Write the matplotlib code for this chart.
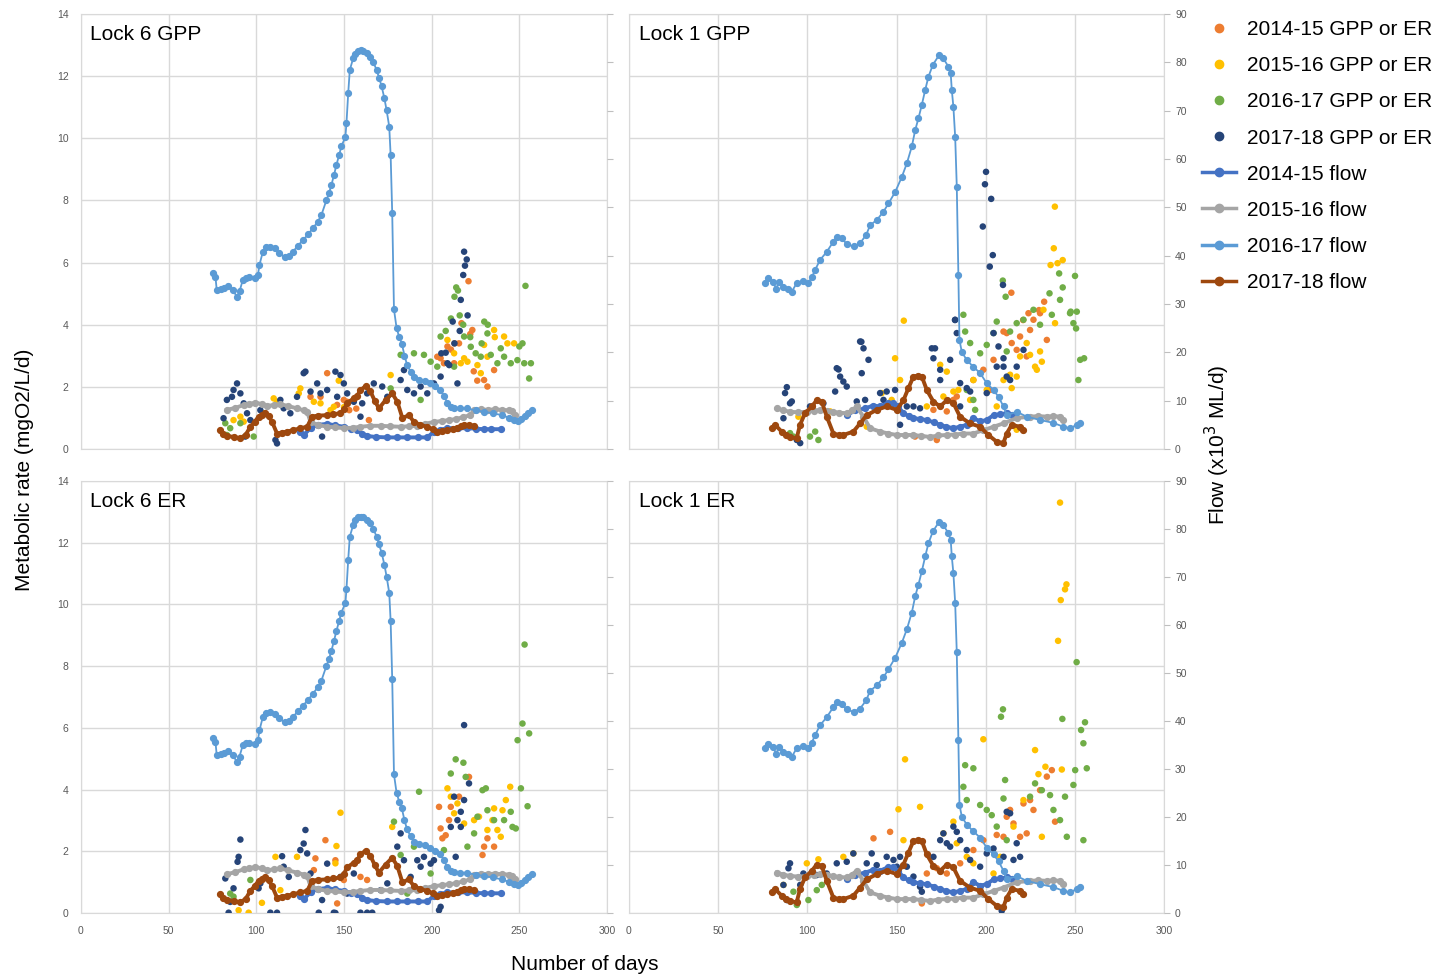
import matplotlib
matplotlib.use('Agg')
import matplotlib.pyplot as plt
from matplotlib.lines import Line2D

plt.rcParams['font.family'] = ['Liberation Sans', 'DejaVu Sans']

# ---------------- flow data (x10^3 ML/d), Lock 6 ----------------
l6_flow_1617_day = [75.5, 76.7, 77.4, 79.9, 81.5, 83.7, 86.6, 88.9, 90.4, 92.3, 94, 96.1, 99, 100.9,
                    101.8, 103.7, 105.7, 108, 110.4, 113, 116.1, 118.5, 120.9, 123.5, 126.6, 129.5,
                    132.3, 135, 137.1, 140, 141.5, 142.8, 144.3, 145.7, 147.2, 148.5, 150.8, 151.4,
                    152.4, 153.3, 155.2, 156.5, 158.1, 159.5, 161, 163, 164.8, 166.8, 168.6, 170,
                    171.5, 173, 174.3, 175.8, 176.6, 177.5, 178.5, 180, 181.5, 183, 184.5, 186, 188,
                    190, 193, 196, 199, 202, 205, 207, 209, 211, 213, 216, 220, 225, 230, 235, 240,
                    244, 247, 249, 251, 253, 255, 257.5]
l6_flow_1617_val = [36.4, 35.6, 32.9, 33.2, 33.3, 33.7, 32.9, 31.5, 32.6, 35.0, 35.4, 35.5, 35.3, 36.0,
                    38.1, 40.8, 41.7, 41.8, 41.5, 40.6, 39.7, 40.0, 40.8, 42.0, 43.2, 44.4,
                    45.7, 47.0, 48.4, 51.5, 53.0, 54.6, 56.7, 58.8, 60.8, 62.6, 64.6, 67.4,
                    73.6, 78.4, 80.8, 81.8, 82.4, 82.5, 82.4, 81.9, 81.2, 80.0, 78.4, 76.8,
                    75.0, 72.6, 70.1, 66.7, 60.8, 48.8, 28.9, 25.0, 23.2, 21.8, 19.3, 17.4, 16.0,
                    14.8, 14.3, 14.1, 13.6, 13.0, 12.2, 11.0, 9.5, 8.7, 8.5, 8.4, 8.4, 8.0, 7.7, 7.4, 7.0,
                    6.5, 6.0, 5.8, 6.2, 6.8, 7.4, 8.1]
l6_flow_1516_day = [83.2, 88, 92.7, 96, 99.4, 103, 106, 110, 113.7, 118, 123.3, 127, 129, 130.9, 135,
                    140.4, 145, 149.9, 155, 159.4, 165, 170.9, 176, 182.3, 187, 191.8, 196, 201.3,
                    206, 210, 214, 218, 222, 224, 228, 232, 236, 240, 244, 246, 247.5]
l6_flow_1516_val = [8.1, 8.5, 9.1, 9.3, 9.6, 9.3, 8.9, 9.1, 9.3, 8.9, 8.4, 8.0, 7.7, 5.6, 5.0,
                    4.6, 4.5, 4.3, 4.4, 4.6, 4.8, 4.8, 4.7, 4.6, 4.7, 4.8, 5.2, 5.6,
                    5.8, 6.0, 6.2, 6.6, 7.0, 8.0, 8.2, 8.1, 8.2, 8.1, 8.0, 7.8, 7.0]
l6_flow_1718_day = [79.4, 81, 83.2, 87, 90.9, 94, 96.6, 99, 101.3, 103, 105.1, 107, 109, 111.8, 114.5,
                    117.5, 121, 125.1, 129, 131.8, 135, 140.4, 144, 148, 150, 151.8, 155.6, 157.5,
                    159.4, 162.3, 165.1, 167.5, 169.9, 173.7, 177.5, 180.4, 183.3, 187, 189.9, 193.5,
                    197.5, 200.5, 203.3, 206, 209, 212, 214.7, 216.5, 218.5, 221.5, 224.2]
l6_flow_1718_val = [3.9, 3.1, 2.7, 2.5, 2.2, 3.0, 4.6, 5.6, 6.7, 7.1, 7.4, 6.8, 5.6, 3.2, 3.4,
                    3.6, 3.9, 4.3, 4.6, 6.7, 6.9, 7.0, 7.2, 7.4, 8.2, 9.5, 10.5, 11.0,
                    12.2, 13.0, 11.9, 10.0, 8.4, 10.1, 11.5, 9.8, 6.4, 7.0, 5.6, 5.0,
                    4.6, 4.1, 3.6, 3.7, 3.9, 4.1, 4.3, 4.7, 5.0, 4.9, 4.8]
l6_flow_1415_day = [125, 127, 130.9, 135, 140.4, 145, 149.9, 154, 157.5, 160.5, 163.2, 168, 174.7, 180,
                    186.1, 192, 197.5, 201.3, 205, 209, 215, 220.4, 225, 229.9, 234, 239.4]
l6_flow_1415_val = [3.5, 2.9, 4.3, 5.0, 5.2, 4.9, 4.6, 4.2, 3.9, 3.2, 2.7, 2.5, 2.4, 2.4,
                    2.4, 2.4, 2.4, 3.6, 4.0, 4.3, 4.3, 4.3, 4.2, 4.1, 4.1, 4.1]

# ---------------- flow data (x10^3 ML/d), Lock 1 ----------------
l1_flow_1617_day = [76.3, 78.1, 80.9, 82.4, 84.3, 86.5, 89.3, 91.2, 94, 97.8, 100.6, 102.5, 104.3, 107.1,
                    110.9, 114.6, 116.5, 119.3, 122.1, 125.9, 129.6, 133, 135.2, 139, 142.7, 145.5,
                    149.3, 153, 155.8, 158.6, 160.5, 162.3, 164.2, 166.1, 167.9, 170.4, 173.9, 176.3,
                    179.1, 180.4, 181, 181.9, 182.9, 183.8, 184.7, 185.3, 186.6, 189.4, 193.1, 196.9,
                    200.6, 204.4, 207.2, 210, 211.8, 217.4, 223, 230.5, 238, 243.6, 247.3, 251.1, 252.9]
l1_flow_1617_val = [34.3, 35.3, 34.6, 33.2, 34.6, 33.6, 33.2, 32.5, 34.3, 34.8, 34.4, 35.5, 37.0, 39.1,
                    40.8, 42.9, 43.9, 43.6, 42.4, 41.9, 42.6, 44.3, 46.3, 47.4, 49.1, 50.8,
                    53.2, 56.3, 59.1, 62.6, 66.0, 68.4, 71.2, 74.3, 77.0, 79.5, 81.5, 80.8,
                    79.1, 77.7, 74.3, 70.8, 64.6, 54.3, 36.0, 22.6, 20.1, 18.4, 17.0, 15.7,
                    13.6, 12.2, 10.8, 8.8, 7.0, 7.7, 6.7, 6.0, 5.4, 4.6, 4.3, 5.0, 5.4]
l1_flow_1516_day = [82.8, 86.5, 90.3, 95, 99.7, 103.5, 107.1, 111, 114.6, 118, 122.1, 125, 127.7, 131.4,
                    135.2, 140.8, 145.5, 150.2, 155, 159.5, 164, 168.8, 173.5, 178.2, 183, 187.5,
                    193.1, 198.7, 204.4, 210, 217.4, 224.9, 229.5, 234.3, 238, 241.7, 243.6]
l1_flow_1516_val = [8.4, 8.0, 7.7, 7.6, 7.7, 7.9, 8.1, 7.9, 7.7, 7.5, 7.4, 8.0, 8.8, 6.7,
                    4.3, 3.6, 3.2, 2.9, 2.9, 2.9, 2.7, 2.5, 2.8, 2.9, 3.0, 3.2,
                    3.2, 3.9, 4.6, 5.3, 6.4, 6.7, 6.8, 6.7, 6.8, 6.7, 6.0]
l1_flow_1718_day = [80, 81.9, 85.6, 88, 90.3, 94, 95.9, 98.7, 102.5, 105.3, 108.1, 110.9, 114.6, 117.5,
                    120.2, 125.8, 129.6, 133.3, 138.9, 144.5, 150.2, 153.9, 156.7, 159.5, 162, 164.2,
                    167, 170.7, 174.5, 178.2, 181.9, 185.6, 191.2, 196.9, 201.5, 206.2, 209.9, 211.8,
                    214.6, 219.3, 221.1]
l1_flow_1718_val = [4.3, 5.0, 3.6, 3.0, 2.5, 2.2, 5.0, 7.4, 8.8, 10.1, 9.8, 6.7, 3.2, 2.9,
                    2.9, 3.6, 5.3, 7.0, 8.1, 8.8, 8.1, 10.1, 12.6, 15.0, 15.2, 15.0,
                    12.2, 9.8, 8.8, 10.1, 9.5, 6.7, 5.3, 4.6, 2.9, 1.5, 1.2, 3.2,
                    5.0, 4.6, 3.9]
l1_flow_1415_day = [122, 127, 132.4, 137, 140.8, 145, 148.2, 151, 153.8, 157, 159.5, 163, 167, 171,
                    174.4, 178, 181.9, 185.5, 189.4, 193.1, 196.9, 200.5, 204.4, 208, 211.8, 215]
l1_flow_1415_val = [7.0, 8.0, 8.4, 9.0, 8.8, 9.5, 9.5, 8.8, 7.4, 6.8, 6.4, 6.2, 6.0, 5.5,
                    5.0, 4.6, 4.3, 4.6, 5.0, 6.4, 5.7, 6.0, 7.0, 7.2, 7.4, 7.0]

# ---------------- metabolic rates (mgO2/L/d) ----------------
# Lock 6 GPP
l6g_1415_day = [130.9, 136.6, 140.4, 146.1, 149.9, 151.8, 153, 157, 164.2, 203.2, 205.1, 207, 209, 211,
                212.8, 213, 215.6, 217, 221, 222, 223.2, 224, 226, 229.9, 231.8, 235.6]
l6g_1415_val = [1.68, 1.68, 2.44, 1.42, 1.58, 1.52, 1.25, 1.3, 0.93, 2.97, 2.92, 2.76, 3.3, 3.2,
                2.76, 3.4, 3.4, 4.05, 5.4, 3.7, 3.83, 2.5, 2.2, 2.22, 2.01, 2.54]
l6g_1516_day = [87, 90.9, 92.8, 104.2, 109.9, 111.8, 124.2, 125.1, 132.8, 136.6, 142.3, 144.2, 147, 150,
                176.6, 209, 212.8, 216.6, 218.5, 220.4, 226.1, 228, 229.9, 231.8, 235.6, 236, 241.3,
                243.2, 247]
l6g_1516_val = [0.93, 1.04, 0.88, 1.15, 1.63, 1.52, 1.79, 1.95, 1.52, 1.47, 1.25, 1.36, 2.2, 1.35,
                2.38, 3.51, 3.08, 2.76, 2.92, 2.81, 2.7, 2.44, 3.35, 2.97, 3.83, 3.6, 3.62,
                3.4, 3.4]
l6g_1617_day = [82.3, 83.2, 85.1, 90.9, 98.5, 176.6, 182.3, 189.9, 193.7, 195.6, 199.4, 203.2, 205.1,
                208, 211, 212.8, 213, 214, 215, 216, 218, 218.5, 222, 222.3, 225.1, 228, 228.5, 230,
                231.8, 232, 233.7, 237.5, 239.4, 241.3, 245.1, 248.9, 250, 251.8, 252.8, 253.5,
                255.6, 256.6]
l6g_1617_val = [0.83, 0.45, 0.67, 0.83, 0.4, 1.95, 3.03, 3.08, 1.58, 3.03, 2.81, 2.65, 3.62,
                3.8, 4.2, 2.65, 4.9, 5.2, 5.1, 4.3, 4.0, 3.62, 3.6, 3.29, 3.08, 2.97, 3.4, 4.1,
                3.72, 4.0, 3.03, 2.76, 3.24, 2.97, 2.76, 2.86, 3.3, 3.4, 2.76, 5.25,
                2.27, 2.76]
l6g_1718_day = [81.3, 83.2, 86.1, 87, 89, 90.9, 92.8, 93.7, 94.7, 96.6, 102.3, 110.9, 111.8, 113.7,
                115.6, 119.4, 123.2, 127, 128, 130.9, 134.7, 136.6, 137.5, 140.4, 145.1, 146.1,
                148, 149.9, 151.8, 155.6, 159.4, 160.4, 163.2, 167, 171.8, 174.7, 182.3, 184.2,
                186.1, 189.9, 193.7, 197.5, 201.3, 205.1, 205.5, 208, 209, 210, 212, 213, 214.7,
                216, 216.6, 218, 218.5, 219, 220, 220.5]
l6g_1718_val = [0.99, 1.58, 1.68, 1.9, 2.11, 1.79, 1.47, 0.4, 1.15, 0.93, 1.25, 0.29, 0.18, 1.58,
                1.31, 1.15, 1.68, 2.44, 2.49, 1.85, 2.11, 1.79, 0.4, 1.9, 2.49, 1.68,
                2.38, 2.11, 1.79, 1.52, 1.04, 1.47, 1.79, 2.11, 2.01, 1.68, 2.22, 2.54,
                1.9, 1.79, 2.01, 1.79, 2.11, 2.33, 3.08, 3.1, 2.76, 2.7, 4.1, 3.4, 2.11,
                3.8, 4.8, 5.6, 6.35, 5.9, 6.1, 4.3]

# Lock 6 ER
l6e_1415_day = [132.8, 133.7, 139.4, 145.1, 146.1, 149.9, 159.4, 163.2, 204.2, 205.1, 206.1, 208,
                209.9, 210.9, 215.6, 221.3, 229, 229.9, 231.8, 235.6]
l6e_1415_val = [1.39, 1.77, 2.36, 1.71, 0.31, 1.07, 1.17, 1.07, 3.44, 2.74, 2.42, 2.52,
                3.01, 3.44, 3.77, 4.41, 1.88, 2.15, 2.42, 2.15]
l6e_1516_day = [89.9, 95.6, 103.2, 110.9, 113.7, 123.2, 145.1, 145.7, 148, 177.5, 209, 210.9, 212.8,
                214.7, 218.5, 224.2, 227, 231.8, 234.7, 235.6, 237.5, 239.4, 240.4, 242.3, 244.8]
l6e_1516_val = [0.09, 0.01, 0.33, 1.82, 0.74, 1.82, 1.61, 2.17, 3.25, 2.79, 4.04, 3.77, 3.23,
                3.55, 2.9, 3.01, 3.12, 2.69, 3.01, 3.39, 2.69, 2.47, 3.33, 3.66, 4.09]
l6e_1617_day = [85.1, 87, 96.6, 178.5, 182.3, 186.1, 189.9, 192.8, 199.4, 207, 210.9, 213.7, 218.1,
                219.4, 220.4, 224.2, 226.1, 229, 230.9, 231.8, 235.6, 241.3, 245.1, 246.1, 248,
                249, 250.9, 251.8, 253, 254.7, 255.6]
l6e_1617_val = [0.63, 0.53, 1.07, 2.96, 1.88, 0.63, 2.15, 3.93, 1.28, 2.04, 4.52, 4.98, 4.87,
                4.41, 2.15, 2.58, 3.12, 3.98, 4.04, 3.33, 3.01, 3.01, 3.28, 2.79, 2.74,
                5.6, 4.04, 6.14, 8.7, 3.46, 5.82]
l6e_1718_day = [82.3, 84.2, 85.1, 87, 89.3, 89.9, 90.9, 101.3, 102.3, 108, 111.8, 114.7, 115.6, 118.5,
                125.1, 127, 128, 129, 130.9, 135.6, 137.5, 140.4, 144.2, 145.1, 148, 151.8, 155.6,
                159.4, 163.2, 166.1, 170.9, 174.7, 180.4, 182.3, 184.2, 188, 191.8, 193.7, 195.6,
                199.4, 201.3, 204.2, 205.1, 210.9, 212.8, 213.7, 214.7, 216.6, 216.6, 218.5, 218.5,
                221.3]
l6e_1718_val = [1.12, 0.01, 0.36, 0.8, 1.66, 1.82, 2.38, 0.8, 0.96, 0.01, 0.01, 1.84, 1.5, 1.17,
                2.04, 2.25, 2.69, 1.93, 1.28, 0.01, 0.42, 1.6, 0.01, 0.0, 1.17, 0.63, 1.28,
                0.01, 0.01, 0.01, 0.74, 0.96, 2.15, 2.58, 1.71, 1.17, 1.71, 1.5, 1.82,
                1.6, 1.71, 0.09, 0.2, 2.79, 3.77, 1.82, 3.01, 3.28, 2.79, 3.66, 6.09,
                4.2]

# Lock 1 GPP
l1g_1415_day = [160.4, 170.7, 172.6, 178.2, 181.9, 183.8, 193.1, 196.9, 198.7, 202.5, 204.4, 210,
                211.8, 214.4, 214.6, 217.4, 219.3, 221, 223, 224, 224.9, 226.8, 229.9, 230.5, 232.8,
                234.3]
l1g_1415_val = [0.4, 1.26, 0.29, 1.21, 1.58, 1.69, 2.22, 2.44, 2.55, 1.9, 2.87, 3.78,
                3.73, 5.03, 3.41, 3.19, 3.62, 4.15, 2.98, 4.37, 3.83, 4.16, 4.47, 4.37, 4.74,
                3.51]
l1g_1516_day = [95, 112.8, 133.3, 141.7, 147.3, 149.2, 152, 154.1, 167, 174.5, 176.3, 178.2, 181.9,
                184.7, 191.3, 193.1, 200.6, 206.2, 210, 213.7, 214.6, 217.4, 217.4, 219.3, 223,
                224.9, 227.7, 228.7, 230.5, 231.5, 232.4, 236.4, 238.2, 238.8, 238.9, 240.3, 243.2]
l1g_1516_val = [1.04, 1.21, 0.72, 1.8, 1.58, 2.92, 2.22, 4.13, 1.37, 2.71, 1.69, 2.49, 1.85,
                1.9, 1.58, 2.22, 1.9, 1.37, 2.22, 2.39, 1.96, 2.33, 0.62, 2.98, 3.41,
                3.03, 2.65, 2.55, 3.14, 2.81, 4.48, 5.92, 6.46, 7.8, 4.05, 5.98, 6.08]
l1g_1617_day = [90.3, 92.2, 101.5, 104.4, 106.2, 187.5, 188.5, 189.4, 191.3, 193.1, 194.1, 196.9,
                200.6, 204.4, 206.2, 209.6, 211.2, 211.8, 213.7, 217.4, 221.2, 226.8, 230.5, 235.8,
                237.1, 241.2, 241.7, 243.2, 247.3, 247.7, 249.2, 250.1, 250.7, 251.1, 252, 253,
                255.2]
l1g_1617_val = [0.51, 0.4, 0.4, 0.56, 0.29, 4.32, 3.78, 1.9, 3.41, 1.58, 1.26, 3.08,
                3.35, 3.73, 4.1, 5.42, 4.9, 3.14, 3.78, 4.05, 4.16, 4.48, 4.0, 5.01,
                4.32, 5.65, 4.8, 5.2, 4.37, 4.42, 4.05, 5.57, 3.88, 4.42, 2.22, 2.87,
                2.92]
l1g_1718_day = [86.6, 87.5, 88.5, 90.3, 91.3, 94.1, 96, 101.5, 109, 115.6, 116.5, 117.5, 118.4, 120.2,
                122.1, 127.7, 129.6, 130.3, 130.5, 131.5, 132.4, 134.3, 140.8, 142.7, 144.5, 149.2,
                152, 155.8, 159.5, 163.2, 169.8, 170.7, 171.6, 174.5, 174.5, 180.1, 182.8, 182.9,
                183.8, 185.7, 185.7, 189.4, 191.3, 198.4, 199.6, 200.2, 200.6, 202.3, 203.1, 204,
                204.4, 206.2, 207.2, 209.7, 210, 210, 211.8, 213.7, 217.4, 221.2]
l1g_1718_val = [0.99, 1.8, 1.99, 1.47, 1.53, 0.29, 0.19, 1.37, 1.47, 1.85, 2.6, 2.56, 2.33, 2.17,
                2.01, 1.53, 3.46, 3.45, 2.44, 3.24, 1.58, 2.87, 1.8, 1.58, 1.85, 1.9,
                0.78, 1.37, 1.37, 1.31, 3.24, 2.92, 3.24, 2.55, 2.22, 2.87, 4.15, 4.16,
                3.73, 2.12, 1.37, 1.96, 1.85, 7.16, 8.52, 8.92, 1.8, 5.87, 8.05, 6.24,
                3.73, 2.65, 3.3, 5.28, 2.65, 2.92, 2.33, 2.22, 2.65, 3.19]

# Lock 1 ER
l1e_1415_day = [137.1, 146.4, 164.2, 167, 172.6, 178.2, 185.7, 193.1, 198.7, 206.2, 210, 211.8, 213.7,
                215.6, 219.3, 221.2, 223, 224.9, 226.8, 230.5, 234.3, 237.1, 238.9]
l1e_1415_val = [2.42, 2.63, 0.31, 1.28, 1.45, 1.28, 1.61, 2.04, 2.36, 2.53, 2.47, 3.12, 3.34,
                2.9, 2.47, 3.55, 2.58, 3.66, 3.34, 3.98, 4.42, 4.63, 2.96]
l1e_1516_day = [86.6, 99.7, 106.2, 120.2, 125.8, 151.1, 153.9, 154.8, 163.2, 176.3, 181.9, 183.8,
                189.4, 193.1, 198.7, 204.4, 208.1, 215.6, 221.2, 227.7, 229.6, 231.5, 233.5, 240.6,
                241.7, 242.1, 242.7, 244.5, 245.3]
l1e_1516_val = [0.91, 1.61, 1.74, 1.82, 1.93, 3.36, 2.36, 4.98, 3.44, 2.58, 2.96, 2.26,
                1.82, 1.61, 5.63, 1.28, 1.82, 2.8, 3.66, 5.28, 4.5, 2.47, 4.74, 8.82,
                13.3, 10.14, 4.65, 10.49, 10.65]
l1e_1617_day = [92.2, 94.1, 100.6, 105.3, 108.1, 187.5, 188.5, 189.4, 193.1, 196.9, 200.6, 203.4,
                206.2, 208.6, 209.7, 210, 210.9, 211.8, 224.9, 227.7, 231.5, 236.1, 238, 241.7,
                243, 244.5, 245.5, 249.2, 250.2, 251, 254.8, 254.8, 256.7, 255.7, 253.5]
l1e_1617_val = [0.69, 0.26, 0.42, 0.74, 0.91, 4.09, 4.79, 3.66, 4.69, 3.5, 3.34, 3.17,
                2.8, 6.36, 6.6, 3.71, 4.31, 2.36, 3.77, 4.2, 3.98, 3.82, 3.34, 3.01,
                6.29, 3.77, 2.47, 4.15, 4.63, 8.13, 2.36, 5.5, 4.69, 6.18, 5.93]
l1e_1718_day = [86.6, 88.5, 89.4, 90.3, 96, 97.8, 105.3, 110.9, 116.5, 122.1, 125.8, 133.3, 136.1,
                138.9, 144.5, 148.3, 150.2, 152, 155.8, 159.5, 163.2, 164.2, 170.7, 174.5, 176.3,
                178.2, 180.1, 181.9, 183.8, 185.7, 189.4, 191.3, 196.9, 200.6, 204.4, 209, 210,
                211.8, 213.7, 215.6, 217.4, 219.3]
l1e_1718_val = [0.91, 0.42, 1.45, 1.61, 0.91, 1.28, 1.23, 1.28, 1.61, 1.66, 1.93, 1.61, 1.93,
                1.55, 1.82, 1.72, 1.5, 1.82, 1.5, 1.18, 0.85, 0.69, 1.82, 2.36, 2.58,
                2.26, 2.15, 2.8, 2.63, 2.36, 2.04, 1.72, 1.5, 1.93, 2.09, 0.07, 1.82,
                3.28, 3.23, 1.72, 2.26, 1.82]

# ---------------- styling ----------------
years = ['2014-15', '2015-16', '2016-17', '2017-18']
dot_colors = ['#ED7D31', '#FFC000', '#70AD47', '#264478']
flow_colors = ['#4472C4', '#A5A5A5', '#5B9BD5', '#9E480E']
grid_c = '#D9D9D9'
tick_c = '#595959'

W, H = 1447, 977
fig = plt.figure(figsize=(W / 100, H / 100), dpi=100)


def fx(px):
    return px / W


def fy(py):
    return 1 - py / H


def draw_panel(rect, title, dots, flows, left_labels, right_labels, x_labels):
    ax = fig.add_axes(rect)
    ax.set_xlim(0, 300)
    ax.set_ylim(0, 14)
    ax.set_xticks(range(0, 301, 50))
    ax.set_yticks(range(0, 15, 2))
    ax.grid(True, color=grid_c, lw=1)
    ax.set_axisbelow(True)
    for s in ax.spines.values():
        s.set_color(grid_c)
    ax.tick_params(length=0, labelsize=7.5, colors=tick_c, pad=9)
    if not left_labels:
        ax.set_yticklabels([])
    if not x_labels:
        ax.set_xticklabels([])
    for (d, v), c in zip(dots, dot_colors):
        ax.scatter(d, v, s=22, color=c, edgecolors='none', zorder=3)
    ax.text(0.018, 0.952, title, transform=ax.transAxes, fontsize=15, va='center', ha='left')

    # flows on a secondary axis (0-90)
    ax2 = ax.twinx()
    ax2.set_ylim(0, 90)
    ax2.set_yticks(range(0, 91, 10))
    for s in ax2.spines.values():
        s.set_visible(False)
    ax2.tick_params(axis='y', direction='out', length=4, color='#BFBFBF', labelsize=7.5,
                    labelcolor=tick_c, pad=4)
    if not right_labels:
        ax2.set_yticklabels([])
    for (d, v), c in zip(flows, flow_colors):
        lw = 1.3 if c == '#5B9BD5' else 2.8
        ax2.plot(d, v, color=c, lw=lw, marker='o', ms=4.2, mec=c, mfc=c)
    return ax


lx0, lx1 = 81, 607
rx0, rx1 = 629, 1164
ty0, ty1 = 14, 449
by0, by1 = 481, 913

l6_flows = [(l6_flow_1415_day, l6_flow_1415_val), (l6_flow_1516_day, l6_flow_1516_val),
            (l6_flow_1617_day, l6_flow_1617_val), (l6_flow_1718_day, l6_flow_1718_val)]
l1_flows = [(l1_flow_1415_day, l1_flow_1415_val), (l1_flow_1516_day, l1_flow_1516_val),
            (l1_flow_1617_day, l1_flow_1617_val), (l1_flow_1718_day, l1_flow_1718_val)]

draw_panel([fx(lx0), fy(ty1), fx(lx1 - lx0), (ty1 - ty0) / H], 'Lock 6 GPP',
           [(l6g_1415_day, l6g_1415_val), (l6g_1516_day, l6g_1516_val),
            (l6g_1617_day, l6g_1617_val), (l6g_1718_day, l6g_1718_val)],
           l6_flows, True, False, False)
draw_panel([fx(rx0), fy(ty1), fx(rx1 - rx0), (ty1 - ty0) / H], 'Lock 1 GPP',
           [(l1g_1415_day, l1g_1415_val), (l1g_1516_day, l1g_1516_val),
            (l1g_1617_day, l1g_1617_val), (l1g_1718_day, l1g_1718_val)],
           l1_flows, False, True, False)
draw_panel([fx(lx0), fy(by1), fx(lx1 - lx0), (by1 - by0) / H], 'Lock 6 ER',
           [(l6e_1415_day, l6e_1415_val), (l6e_1516_day, l6e_1516_val),
            (l6e_1617_day, l6e_1617_val), (l6e_1718_day, l6e_1718_val)],
           l6_flows, True, False, True)
draw_panel([fx(rx0), fy(by1), fx(rx1 - rx0), (by1 - by0) / H], 'Lock 1 ER',
           [(l1e_1415_day, l1e_1415_val), (l1e_1516_day, l1e_1516_val),
            (l1e_1617_day, l1e_1617_val), (l1e_1718_day, l1e_1718_val)],
           l1_flows, False, True, True)

# axis titles
fig.text(fx(25), fy(470), 'Metabolic rate (mgO2/L/d)', rotation=90, fontsize=15,
         ha='center', va='center')
fig.text(fx(1217), fy(445), 'Flow (x10$^3$ ML/d)', rotation=90, fontsize=15,
         ha='center', va='center')
fig.text(fx(585), fy(964), 'Number of days', fontsize=15, ha='center', va='center')

# legend
handles = []
labels = []
for y, c in zip(years, dot_colors):
    handles.append(Line2D([], [], ls='none', marker='o', ms=6, color=c))
    labels.append(y + ' GPP or ER')
for y, c in zip(years, flow_colors):
    handles.append(Line2D([], [], lw=2.5, marker='o', ms=6, color=c))
    labels.append(y + ' flow')
fig.legend(handles, labels, loc='upper left', bbox_to_anchor=(fx(1194), fy(12)),
           frameon=False, fontsize=15, labelspacing=0.82, handlelength=1.6,
           handletextpad=0.55, borderaxespad=0)

fig.savefig('out.png', dpi=100)
